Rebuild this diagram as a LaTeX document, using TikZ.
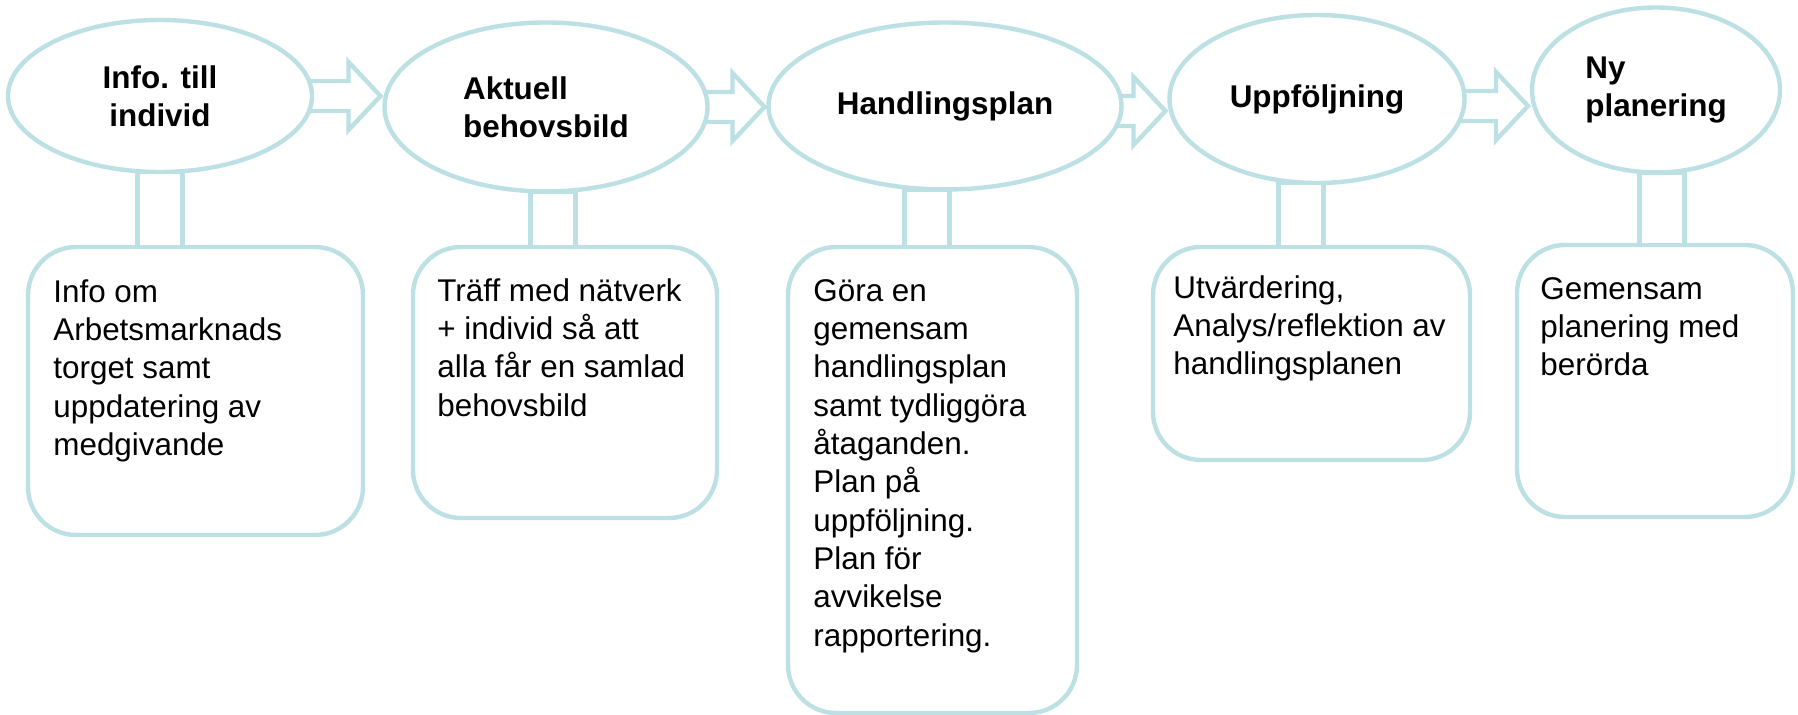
\documentclass[tikz,border=0pt]{standalone}
\usepackage{fontspec}
\setmainfont{Liberation Sans}
\usetikzlibrary{shapes.geometric,backgrounds,calc}
\definecolor{paleteal}{RGB}{188,224,227}

\tikzset{
  stage/.style={ellipse, draw=paleteal, line width=2.2pt, fill=white,
    inner sep=0pt, outer sep=0pt, align=center,
    font=\bfseries\fontsize{15.7}{19.15}\selectfont},
  panel/.style={rectangle, rounded corners=24pt, draw=paleteal, line width=2.2pt,
    fill=white, anchor=north west, outer sep=0pt},
  body/.style={anchor=north west, inner sep=0pt, align=left,
    font=\fontsize{15.7}{19.15}\selectfont},
  blockarrow/.style={draw=paleteal, line width=2.2pt, fill=white, line join=miter},
  stemline/.style={draw=paleteal, line width=2.2pt, fill=white},
}

% hollow arrow from stage #1 to stage #2, #3 = vertical shift
\newcommand{\hollowarrow}[3]{%
  \begin{scope}[on background layer]
  \draw[blockarrow] let \p1=([yshift=#3]#1.east), \p2=(#2.west) in
    (\x1-6pt,\y1+7.5pt) -- (\x2-18pt,\y1+7.5pt) -- (\x2-18pt,\y1+17pt)
    -- (\x2-2pt,\y1) -- (\x2-18pt,\y1-17pt) -- (\x2-18pt,\y1-7.5pt)
    -- (\x1-6pt,\y1-7.5pt) -- cycle;
  \end{scope}}

% stalk from stage #1 down to panel #2, #3 = horizontal shift
\newcommand{\stalk}[3]{%
  \draw[stemline] let \p1=([xshift=#3]#1.south), \p2=(#2.north) in
    (\x1-11.25pt,\y1) rectangle (\x1+11.25pt,\y2);}

\begin{document}
\begin{tikzpicture}[x=0.5pt, y=-0.5pt]
\useasboundingbox (0,0) rectangle (1798,715);

% stages
\node[stage, minimum width=152pt, minimum height=76pt] (e1) at (160,96) {Info. till\\individ};
\node[stage, align=left, minimum width=161.5pt, minimum height=84.5pt] (e2) at (546,107) {Aktuell\\behovsbild};
\node[stage, minimum width=176.5pt, minimum height=83.5pt] (e3) at (945,106) {Handlingsplan};
\node[stage, minimum width=147.5pt, minimum height=84pt] (e4) at (1317,99) {Uppföljning};
\node[stage, align=left, minimum width=124pt, minimum height=82.5pt] (e5) at (1656,90) {Ny\\planering};

% panels
\node[panel, minimum width=167.5pt, minimum height=144pt] (b1) at (28,247) {};
\node[panel, minimum width=152pt, minimum height=135.5pt] (b2) at (413,247) {};
\node[panel, minimum width=144.5pt, minimum height=233pt] (b3) at (788,247) {};
\node[panel, minimum width=158.5pt, minimum height=106.5pt] (b4) at (1153,247) {};
\node[panel, minimum width=138pt, minimum height=136pt] (b5) at (1517,245) {};

\node[body] (t1) at ([shift={(25,32)}]b1.north west) {Info om\\Arbetsmarknads\\torget samt\\uppdatering av\\medgivande};
\node[body] (t2) at ([shift={(24,31)}]b2.north west) {Träff med nätverk\\+ individ så att\\alla får en samlad\\behovsbild};
\node[body] (t3) at ([shift={(25,32)}]b3.north west) {Göra en\\gemensam\\handlingsplan\\samt tydliggöra\\åtaganden.\\Plan på\\uppföljning.\\Plan för\\avvikelse\\rapportering.};
\node[body] (t4) at ([shift={(20,28)}]b4.north west) {Utvärdering,\\Analys/reflektion av\\handlingsplanen};
\node[body] (t5) at ([shift={(23,32)}]b5.north west) {Gemensam\\planering med\\berörda};

% arrows
\hollowarrow{e1}{e2}{0pt}
\hollowarrow{e2}{e3}{0pt}
\hollowarrow{e3}{e4}{-2.5pt}
\hollowarrow{e4}{e5}{-3.5pt}

% stalks
\stalk{e1}{b1}{0pt}
\stalk{e2}{b2}{3.5pt}
\stalk{e3}{b3}{-9pt}
\stalk{e4}{b4}{-8pt}
\stalk{e5}{b5}{3pt}
\end{tikzpicture}
\end{document}
